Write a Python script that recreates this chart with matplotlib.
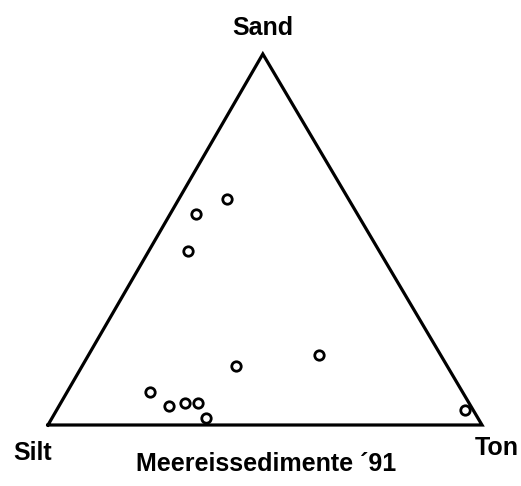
import matplotlib
matplotlib.use("Agg")
import matplotlib.pyplot as plt
import numpy as np

# Ternary compositions (fractions): Sand, Ton, Silt
sand = [0.61, 0.57, 0.47, 0.19, 0.16, 0.09, 0.05, 0.06, 0.06, 0.02, 0.04]
ton  = [0.11, 0.06, 0.09, 0.53, 0.355, 0.19, 0.255, 0.285, 0.315, 0.355, 0.94]
silt = [1 - s - t for s, t in zip(sand, ton)]

corner_labels = ["Sand", "Silt", "Ton"]
title = "Meereissedimente \u00b491"

W, H = 521, 486
fig = plt.figure(figsize=(W / 100, H / 100), dpi=100)
ax = fig.add_axes([0, 0, 1, 1])

# pixel geometry of the triangle frame
left_px, right_px = 48, 482
base_px_from_top, apex_px_from_top = 425, 54
width_px = right_px - left_px
height_px = base_px_from_top - apex_px_from_top

ax.set_xlim(-left_px / width_px, 1 + (W - right_px) / width_px)
ax.set_ylim(-(H - base_px_from_top) / height_px, 1 + apex_px_from_top / height_px)
ax.axis("off")

def to_xy(s, t):
    s = np.asarray(s); t = np.asarray(t)
    return t + 0.495 * s, s

# triangle: Silt (bottom-left), Ton (bottom-right), Sand (apex)
tx, ty = to_xy([0, 0, 1, 0], [0, 1, 0, 0])
ax.plot(tx, ty, color="black", lw=2.3, solid_joinstyle="miter", clip_on=False)

px, py = to_xy(sand, ton)
ax.plot(px, py, "o", ms=6.8, mfc="white", mec="black", mew=2.0, ls="none")

fp = dict(family="Liberation Sans", weight="bold", color="black")
def px2data(x, y):
    xl = ax.get_xlim(); yl = ax.get_ylim()
    return xl[0] + x / W * (xl[1] - xl[0]), yl[1] - y / H * (yl[1] - yl[0])

ax.text(*px2data(263, 28), corner_labels[0], ha="center", va="center", fontsize=18, **fp)
ax.text(*px2data(33, 453), corner_labels[1], ha="center", va="center", fontsize=18, **fp)
ax.text(*px2data(497, 448), corner_labels[2], ha="center", va="center", fontsize=18, **fp)
ax.text(*px2data(266, 464), title, ha="center", va="center", fontsize=18, **fp)

fig.savefig("out.png", dpi=100)
